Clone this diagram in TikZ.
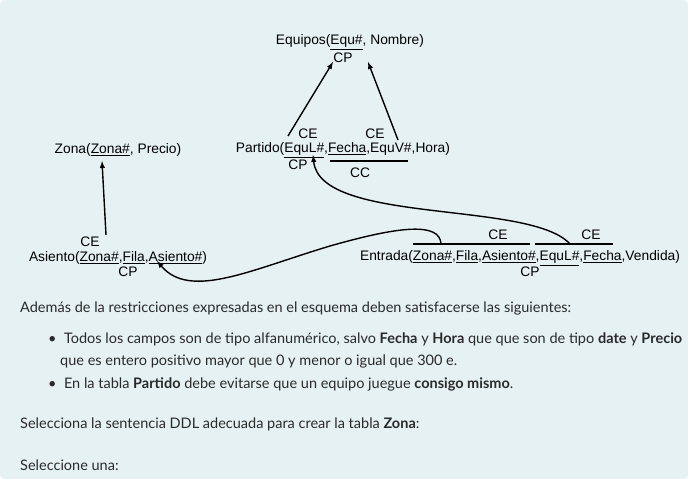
\documentclass[tikz,border=0pt]{standalone}
\usepackage{fontspec}
\setmainfont{Lato}
\newfontfamily\diagfont{Liberation Sans}
\definecolor{PanelBg}{HTML}{E6F1F3}
\definecolor{BodyText}{HTML}{2A2A2A}
\newcommand{\keyul}[1]{\underline{#1}}
\tikzstyle{Rel}=[font=\diagfont\fontsize{13.8}{16}\selectfont,inner sep=0pt]
\tikzstyle{Tag}=[font=\diagfont\fontsize{13.8}{16}\selectfont,inner sep=0pt]
\tikzstyle{Para}=[anchor=west,inner sep=0pt,text=BodyText,font=\fontsize{14.5}{17}\selectfont]
\tikzstyle{ArrowRef}=[black,line width=1.4pt,-latex]
\begin{document}
\begin{tikzpicture}[x=1pt, y=-1pt, >=latex]
		\useasboundingbox (0,0) rectangle (688,479);
		\fill[PanelBg,rounded corners=4pt] (0,0) rectangle (688,479);
		
		% Relations
		\node[Rel] (Equipos) at (350,42) {Equipos(\keyul{Equ\#}, Nombre)};
		\node[Tag] (EquiposCP) at (343,58) {CP};
		\node[Rel] (Partido) at (343,150) {Partido(\keyul{EquL\#},\keyul{Fecha},EquV\#,Hora)};
		\node[Tag] (PartidoCE1) at (308,134) {CE};
		\node[Tag] (PartidoCE2) at (375,134) {CE};
		\node[Tag] (PartidoCP) at (298,165) {CP};
		\node[Tag] (PartidoCC) at (360,173) {CC};
		\node[Rel] (Zona) at (118,150) {Zona(\keyul{Zona\#}, Precio)};
		\node[Rel] (Asiento) at (118,258) {Asiento(\keyul{Zona\#},\keyul{Fila},\keyul{Asiento\#})};
		\node[Tag] (AsientoCE) at (90,242) {CE};
		\node[Tag] (AsientoCP) at (128,272) {CP};
		\node[Rel] (Entrada) at (520,258) {Entrada(\keyul{Zona\#},\keyul{Fila},\keyul{Asiento\#},\keyul{EquL\#},\keyul{Fecha},Vendida)};
		\node[Tag] (EntradaCE1) at (498,235) {CE};
		\node[Tag] (EntradaCE2) at (591,235) {CE};
		\node[Tag] (EntradaCP) at (530,272) {CP};
		
		% Key marks
		\coordinate (CCa) at (330,161);
		\coordinate (CCb) at (408,161);
		\coordinate (CEa) at (413,244);
		\coordinate (CEb) at (530,244);
		\coordinate (CEc) at (535,244);
		\coordinate (CEd) at (613,244);
		\draw[line width=1.3pt] (CCa) -- (CCb);
		\draw[line width=1.3pt] (CEa) -- (CEb);
		\draw[line width=1.3pt] (CEc) -- (CEd);
		
		% Foreign key arrows
		\coordinate (LocalFrom) at (288,136);
		\coordinate (VisitFrom) at (398,140);
		\coordinate (ZonaFrom) at (106,235);
		\draw[ArrowRef] (LocalFrom) -- (333,62);
		\draw[ArrowRef] (VisitFrom) -- (368,62);
		\draw[ArrowRef] (ZonaFrom) -- (102,161);
		\coordinate (PartStart) at (570,244);
		\coordinate (PartEnd) at (313,155);
		\draw[ArrowRef] (PartStart) .. controls (530,200) and (320,225) .. (PartEnd);
		\coordinate (SeatStart) at (441,244);
		\coordinate (SeatEnd) at (157,261);
		\draw[ArrowRef] (SeatStart) .. controls (440,222) and (400,226) .. (330,246)
		  .. controls (250,270) and (190,300) .. (SeatEnd);
		
		% Text below
		\node[Para] (Intro) at (20,308) {Además de la restricciones expresadas en el esquema deben satisfacerse las siguientes:};
		\node[Para] (Item1) at (48,339) {\textbullet\ \ Todos los campos son de tipo alfanumérico, salvo \textbf{Fecha} y \textbf{Hora} que que son de tipo \textbf{date} y \textbf{Precio}};
		\node[Para] (Item1b) at (60,361) {que es entero positivo mayor que 0 y menor o igual que 300 e.};
		\node[Para] (Item2) at (48,384) {\textbullet\ \ En la tabla \textbf{Partido} debe evitarse que un equipo juegue \textbf{consigo mismo}.};
		\node[Para] (Question) at (20,424) {Selecciona la sentencia DDL adecuada para crear la tabla \textbf{Zona}:};
		\node[Para] (Choose) at (20,465) {Seleccione una:};
	\end{tikzpicture}
\end{document}
